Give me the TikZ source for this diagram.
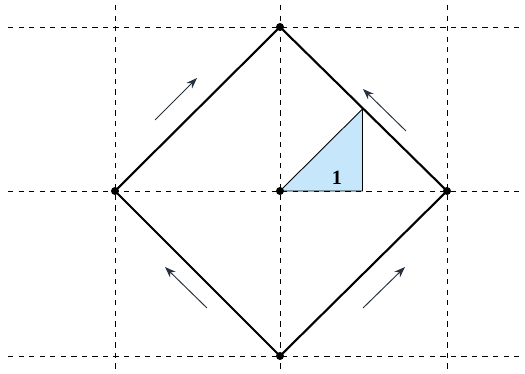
\documentclass[tikz,border=0pt]{standalone}
\usepackage{xcolor}
\usepackage{fontspec}
\setmainfont{Liberation Serif}
\usepackage{tikz}
\usetikzlibrary{arrows.meta, calc}
\definecolor{ink}{HTML}{27313D}
\definecolor{cellblue}{HTML}{C6E7FB}

\begin{document}
\begin{tikzpicture}[
  gridline/.style={dashed, line width=0.5pt},
  edge/.style={line width=1.2pt},
  flow/.style={->, ink, line width=0.55pt},
  vdot/.style={circle, fill=black, inner sep=0pt, minimum size=1.6mm},
  >={Stealth[length=2.2mm, width=1.6mm]}
]
\useasboundingbox (-5.6,-3.66) rectangle (4.9,3.82);

% grid
\foreach \y in {3.28, 0, -3.3}
  \draw[gridline] (-5.44,\y) -- (4.8,\y);
\foreach \x in {-3.3, 0, 3.34}
  \draw[gridline] (\x,3.72) -- (\x,-3.62);

% vertices
\coordinate (top)    at (0,3.28);
\coordinate (bottom) at (0,-3.3);
\coordinate (left)   at (-3.3,0);
\coordinate (right)  at (3.34,0);
\coordinate (centre) at (0,0);
\coordinate (foot)   at (1.65,0);
\coordinate (apex)   at (1.65,1.64);

% shaded cell
\draw[fill=cellblue, line width=0.5pt] (centre) -- (foot) -- (apex) -- cycle;
\node[font=\fontsize{11.5}{13}\selectfont\bfseries] (one) at (1.14,0.26) {1};

% square
\draw[edge] (top) -- (right) -- (bottom) -- (left) -- cycle;

\node[vdot] (ntop)    at (top)    {};
\node[vdot] (nbottom) at (bottom) {};
\node[vdot] (nleft)   at (left)   {};
\node[vdot] (nright)  at (right)  {};
\node[vdot] (ncentre) at (centre) {};

% direction arrows
\coordinate (tlA) at (-2.5,1.42);
\coordinate (tlB) at (-1.66,2.26);
\coordinate (trA) at (2.52,1.2);
\coordinate (trB) at (1.66,2.04);
\coordinate (blA) at (-1.46,-2.34);
\coordinate (blB) at (-2.3,-1.52);
\coordinate (brA) at (1.66,-2.34);
\coordinate (brB) at (2.5,-1.52);

\draw[flow] (tlA) -- (tlB);
\draw[flow] (trA) -- (trB);
\draw[flow] (blA) -- (blB);
\draw[flow] (brA) -- (brB);
\end{tikzpicture}
\end{document}
